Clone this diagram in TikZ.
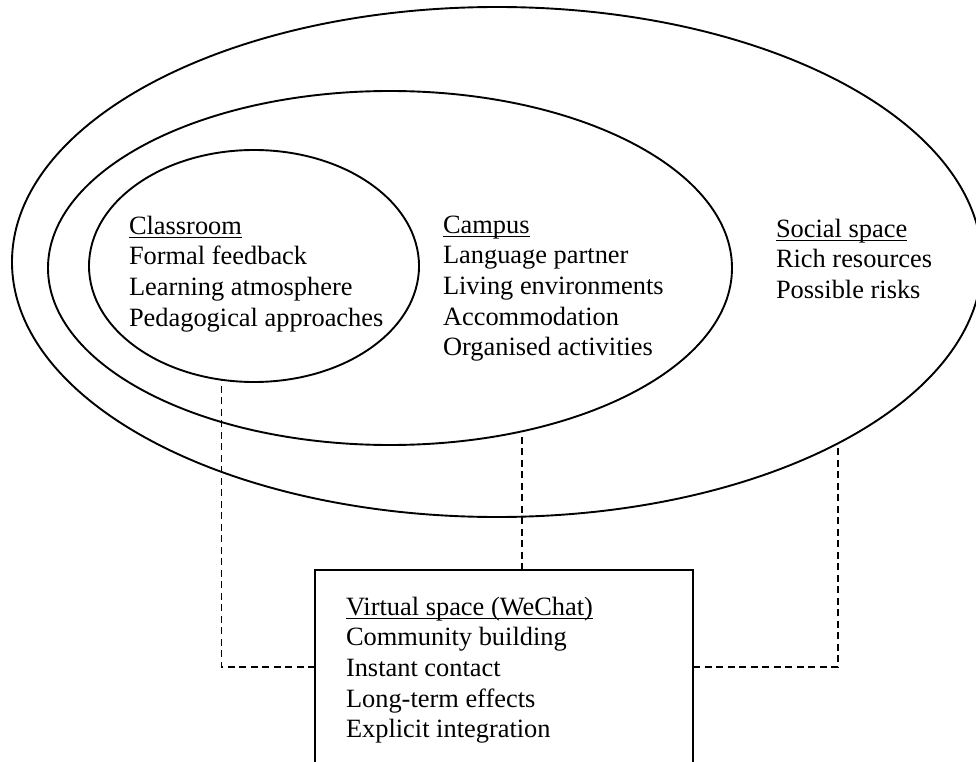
\documentclass[tikz,border=0pt]{standalone}
\usepackage{fontspec}
\setmainfont{Liberation Serif}
\usetikzlibrary{shapes.geometric}

% underlined heading with a fixed rule position
\newcommand\headline[1]{\setbox0\hbox{#1}\rlap{\rule[-4.4pt]{\wd0}{1.7pt}}\box0}
% a block of lines whose baseline is that of its first line
\newcommand\textblock[1]{\vtop{#1}}
\newcommand\textline[1]{\hbox{#1}}

\begin{document}
\begin{tikzpicture}[x=1pt,y=-1pt,
  ring/.style={ellipse, draw, line width=1.9pt, inner sep=0pt, outer sep=0pt},
  txt/.style={anchor=base west, inner sep=0pt, outer sep=0pt,
              font=\fontsize{26.4}{30.7}\selectfont},
  link/.style={line width=1.4pt, dash pattern=on 7pt off 4.5pt},
  panel/.style={draw, line width=1.9pt, inner sep=0pt, outer sep=0pt}]
\useasboundingbox (0,0) rectangle (976,762);
\clip (0,0) rectangle (976,762);

% nested spaces
\node[ring, minimum width=970pt, minimum height=510pt] (outer) at (497,262) {};
\node[ring, minimum width=684pt, minimum height=354pt] (middle) at (390,268) {};
\node[ring, minimum width=330pt, minimum height=232pt] (inner) at (254,266) {};

% virtual space box (bottom edge runs off the page)
\node[panel, minimum width=378pt, minimum height=194pt] (vbox) at (504,667) {};

% texts
\node[txt] (tclass) at (129,234) {\textblock{%
  \textline{\headline{Classroom}}\textline{Formal feedback}%
  \textline{Learning atmosphere}\textline{Pedagogical approaches}}};
\node[txt] (tcampus) at (443,233) {\textblock{%
  \textline{\headline{Campus}}\textline{Language partner}%
  \textline{Living environments}\textline{Accommodation}%
  \textline{Organised activities}}};
\node[txt] (tsocial) at (776,237) {\textblock{%
  \textline{\headline{Social space}}\textline{Rich resources}%
  \textline{Possible risks}}};
\node[txt] (tvirtual) at (346,615) {\textblock{%
  \textline{\headline{Virtual space (WeChat)}}\textline{Community building}%
  \textline{Instant contact}\textline{Long-term effects}%
  \textline{Explicit integration}}};

% dashed links, drawn from the virtual space box out to each space
\draw[link] (vbox.west) -| (inner.254.3);
\draw[link] (middle.309.6 |- vbox.north) -- (middle.309.6);
\draw[link] (vbox.east) -| (outer.332.5);
\end{tikzpicture}
\end{document}
